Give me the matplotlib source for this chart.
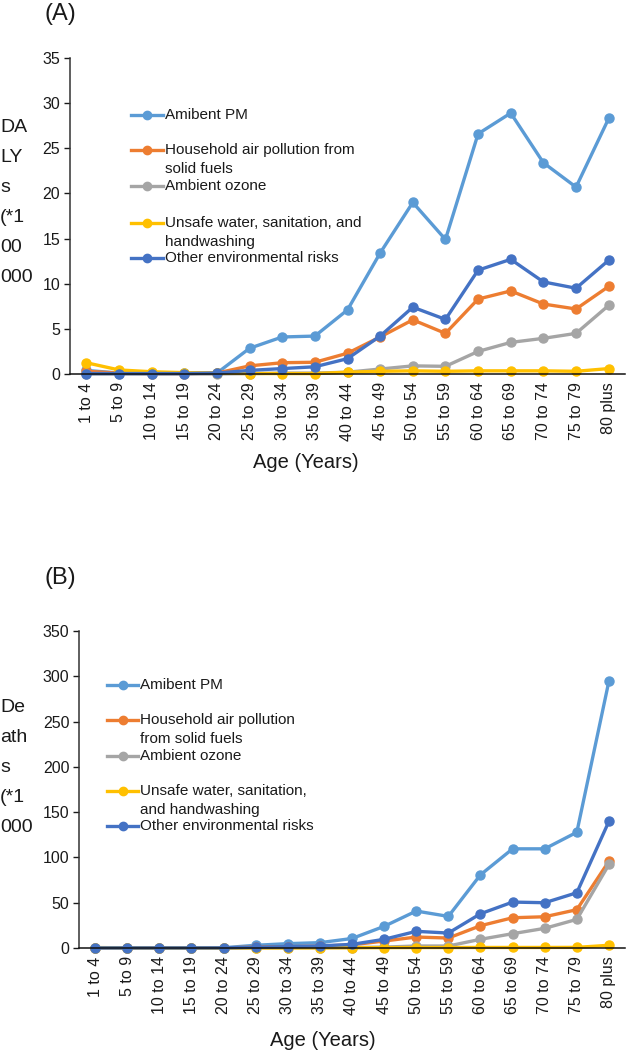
import matplotlib
matplotlib.use("Agg")
import matplotlib.pyplot as plt
from matplotlib.lines import Line2D

plt.rcParams['font.family'] = ['Liberation Sans', 'DejaVu Sans']

W, H = 627, 1050

AGE_GROUPS = ['1 to 4', '5 to 9', '10 to 14', '15 to 19', '20 to 24', '25 to 29',
              '30 to 34', '35 to 39', '40 to 44', '45 to 49', '50 to 54', '55 to 59',
              '60 to 64', '65 to 69', '70 to 74', '75 to 79', '80 plus']

SERIES_NAMES_A = ['Amibent PM', 'Household air pollution from\nsolid fuels', 'Ambient ozone',
                  'Unsafe water, sanitation, and\nhandwashing', 'Other environmental risks']
SERIES_NAMES_B = ['Amibent PM', 'Household air pollution\nfrom solid fuels', 'Ambient ozone',
                  'Unsafe water, sanitation,\nand handwashing', 'Other environmental risks']
COLORS = ['#5B9BD5', '#ED7D31', '#A5A5A5', '#FFC000', '#4472C4']

# (A) DALYs (*100 000)
dalys_pm = [0.4, 0.1, 0.1, 0.1, 0.1, 2.85, 4.1, 4.2, 7.1, 13.4, 19.0, 14.9, 26.6, 28.9, 23.4, 20.7, 28.3]
dalys_household = [0.3, 0.1, 0.05, 0.05, 0.1, 0.9, 1.25, 1.3, 2.3, 4.1, 6.0, 4.5, 8.3, 9.2, 7.75, 7.2, 9.7]
dalys_ozone = [0.0, 0.0, 0.0, 0.0, 0.0, 0.05, 0.1, 0.1, 0.2, 0.55, 0.9, 0.85, 2.5, 3.5, 3.95, 4.5, 7.6]
dalys_wash = [1.25, 0.45, 0.25, 0.15, 0.1, 0.05, 0.05, 0.05, 0.2, 0.3, 0.35, 0.3, 0.35, 0.35, 0.35, 0.3, 0.6]
dalys_other = [0.05, 0.05, 0.05, 0.05, 0.1, 0.4, 0.6, 0.8, 1.7, 4.2, 7.4, 6.05, 11.5, 12.7, 10.2, 9.5, 12.6]

# (B) Deaths (*1000)
deaths_pm = [0.3, 0.1, 0.1, 0.1, 0.3, 3.0, 4.8, 5.9, 10.5, 23.9, 40.8, 34.9, 80.8, 109.5, 109.5, 127.8, 294.8]
deaths_household = [0.2, 0.1, 0.1, 0.1, 0.2, 1.0, 1.5, 2.0, 3.5, 7.7, 12.1, 11.0, 24.6, 33.4, 34.5, 42.3, 95.8]
deaths_ozone = [0.0, 0.0, 0.0, 0.0, 0.0, 0.1, 0.2, 0.3, 0.5, 1.0, 2.2, 2.2, 9.6, 15.8, 21.7, 31.6, 92.2]
deaths_wash = [0.5, 0.2, 0.1, 0.1, 0.1, 0.1, 0.1, 0.2, 0.3, 0.4, 0.5, 0.5, 0.6, 0.6, 0.6, 0.7, 3.0]
deaths_other = [0.1, 0.1, 0.1, 0.1, 0.2, 0.8, 1.5, 2.3, 4.0, 9.6, 18.4, 16.5, 37.8, 50.7, 50.0, 61.0, 139.9]

TEXT = '#1a1a1a'


def fig_rect(left, top, right, bottom):
    # pixel box -> figure fraction rect
    return [left / W, 1 - bottom / H, (right - left) / W, (bottom - top) / H]


def draw_panel(fig, rect, series, ymax, ystep):
    ax = fig.add_axes(rect)
    xs = list(range(len(AGE_GROUPS)))
    for ys, c in zip(series, COLORS):
        ax.plot(xs, ys, color=c, lw=2.4, marker='o', ms=6.5, solid_capstyle='round', clip_on=False)
    ax.set_xlim(-0.5, len(AGE_GROUPS) - 0.5)
    ax.set_ylim(0, ymax)
    ax.set_yticks(range(0, ymax + 1, ystep))
    ax.set_xticks(xs)
    ax.set_xticklabels(AGE_GROUPS, rotation=90)
    ax.tick_params(axis='x', length=0, pad=6, labelsize=11.5, colors=TEXT)
    ax.tick_params(axis='y', length=4, width=1, pad=3, labelsize=11.5, colors=TEXT)
    for s in ['top', 'right']:
        ax.spines[s].set_visible(False)
    ax.spines['left'].set_color('#333333')
    ax.spines['bottom'].set_color('#111111')
    ax.spines['left'].set_linewidth(1.1)
    ax.spines['bottom'].set_linewidth(1.1)
    return ax


def draw_legend(fig, names, x0, x1, ys):
    # marker sits on the first line of each label, like the Excel legend
    for name, c, y in zip(names, COLORS, ys):
        yf = 1 - y / H
        fig.add_artist(Line2D([x0 / W, (x0 + x1) / 2 / W, x1 / W], [yf, yf, yf],
                              transform=fig.transFigure, color=c, lw=2.4,
                              marker='o', ms=6, markevery=[1]))
        fig.text((x1 + 2) / W, 1 - (y - 7) / H, name, ha='left', va='top', fontsize=11,
                 color=TEXT, linespacing=1.45, transform=fig.transFigure)


fig = plt.figure(figsize=(W / 100, H / 100), dpi=100)

# panel A
draw_panel(fig, fig_rect(70, 58, 625, 374),
           [dalys_pm, dalys_household, dalys_ozone, dalys_wash, dalys_other], 35, 5)
fig.text(60 / W, 1 - 14 / H, '(A)', ha='center', va='center', fontsize=17, color=TEXT)
fig.text(0, 1 - 203 / H, 'DA\nLY\ns\n(*1\n00\n000', ha='left', va='center',
         fontsize=14, linespacing=2.0, color=TEXT)
fig.text(306 / W, 1 - 462 / H, 'Age (Years)', ha='center', va='center', fontsize=14.5, color=TEXT)
draw_legend(fig, SERIES_NAMES_A, 131, 163, [115, 150, 186, 223, 258])

# panel B
draw_panel(fig, fig_rect(79, 631, 625, 948),
           [deaths_pm, deaths_household, deaths_ozone, deaths_wash, deaths_other], 350, 50)
fig.text(60 / W, 1 - 578 / H, '(B)', ha='center', va='center', fontsize=17, color=TEXT)
fig.text(0, 1 - 768 / H, 'De\nath\ns\n(*1\n000', ha='left', va='center',
         fontsize=14, linespacing=2.0, color=TEXT)
fig.text(323 / W, 1 - 1040 / H, 'Age (Years)', ha='center', va='center', fontsize=14.5, color=TEXT)
draw_legend(fig, SERIES_NAMES_B, 107, 138, [685, 720, 756, 791, 826])

fig.savefig('out.png', dpi=100)
